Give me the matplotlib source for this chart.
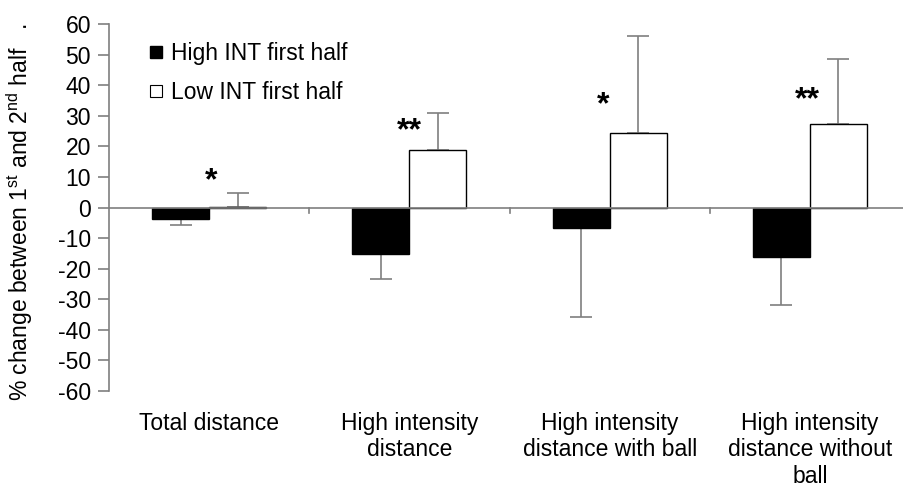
import matplotlib
matplotlib.use("Agg")
import matplotlib.pyplot as plt
import numpy as np
from matplotlib.lines import Line2D

plt.rcParams['font.family'] = ['Liberation Sans', 'DejaVu Sans']
plt.rcParams['mathtext.fontset'] = 'custom'
plt.rcParams['mathtext.rm'] = 'Liberation Sans'
plt.rcParams['mathtext.it'] = 'Liberation Sans'

categories = ["Total distance", "High intensity\ndistance",
              "High intensity\ndistance with ball", "High intensity\ndistance without\nball"]
high_int = [-3.6, -15.2, -6.6, -16.2]
high_err = [2.0, 8.2, 29.2, 15.8]
low_int = [0.3, 18.7, 24.2, 27.2]
low_err = [4.6, 12.3, 32.0, 21.3]
stars = ["*", "**", "*", "**"]
star_x = [0.01, 0.0, -0.03, -0.01]
star_y = [8.5, 25.0, 33.5, 35.0]
yticks = list(range(-60, 61, 10))

FS = 16.5

fig = plt.figure(figsize=(9.04, 4.9), dpi=100)
ax = fig.add_axes([109/904, 1-391/490, 1-109/904, (391-24)/490])

x = np.arange(len(categories))
w = 0.285
gray = '#7f7f7f'
ax.bar(x - w/2, high_int, w, color='black', edgecolor='black', linewidth=1, zorder=2)
ax.bar(x + w/2, low_int, w, color='white', edgecolor='black', linewidth=1, zorder=2)

for xi, v, e in zip(x - w/2, high_int, high_err):
    ax.errorbar(xi, v, yerr=[[e], [0]], fmt='none', ecolor=gray, elinewidth=1.2, capsize=8, capthick=1.2, zorder=1)
for xi, v, e in zip(x + w/2, low_int, low_err):
    ax.errorbar(xi, v, yerr=[[0], [e]], fmt='none', ecolor=gray, elinewidth=1.2, capsize=8, capthick=1.2, zorder=1)

for xi, dx, s, sy in zip(x, star_x, stars, star_y):
    ax.text(xi + dx, sy, s, ha='center', va='center', fontsize=23, fontweight='bold')

ax.axhline(0, color=gray, linewidth=1.2, zorder=3)
for b in [0.5, 1.5, 2.5]:
    ax.plot([b, b], [0, -1.8], color=gray, linewidth=1.2, zorder=3)

ax.set_xlim(-0.5, 3.47)
ax.set_ylim(-60, 60)
ax.set_yticks(yticks)
ax.set_yticklabels([str(t) for t in yticks], fontsize=FS)
ax.tick_params(axis='y', direction='out', length=8, width=1.2, color=gray, pad=5)
ax.set_xticks([])
for s in ['top', 'right', 'bottom']:
    ax.spines[s].set_visible(False)
ax.spines['left'].set_color(gray)
ax.spines['left'].set_linewidth(1.2)

for xi, c in zip(x, categories):
    ax.text(xi, -67.0, c, ha='center', va='top', fontsize=FS, linespacing=1.17)

fig.text(20/904, 1-212/490, r"% change between 1$^{st}$ and 2$^{nd}$ half   .", rotation=90,
         ha='center', va='center', fontsize=FS)

handles = [Line2D([], [], marker='s', color='black', markerfacecolor='black', linestyle='none', markersize=8),
           Line2D([], [], marker='s', color='black', markerfacecolor='white', markeredgewidth=0.8,
                  linestyle='none', markersize=8)]
fig.legend(handles, ["High INT first half", "Low INT first half"], loc='upper left',
           bbox_to_anchor=(124/904, 1-21/490), frameon=False, fontsize=FS,
           handletextpad=0.15, labelspacing=0.7, handlelength=1.0)

fig.savefig("out.png", dpi=100)
